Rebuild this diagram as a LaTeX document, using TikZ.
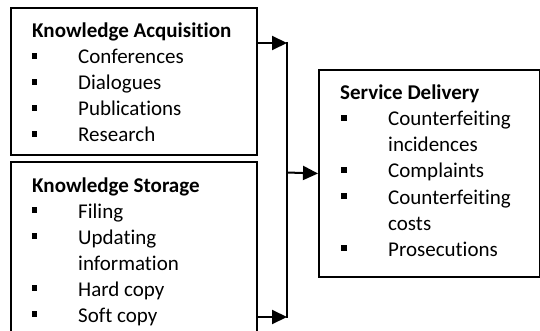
\documentclass[tikz,border=0pt]{standalone}
\usepackage{fontspec}
\setmainfont[Ligatures=NoCommon]{Carlito}
\usetikzlibrary{arrows.meta}
\begin{document}
\begin{tikzpicture}[x=1pt,y=-1pt,
  box/.style={draw=black,line width=2pt,anchor=north west,inner sep=0pt},
  ttl/.style={anchor=base west,inner sep=0pt,font=\fontsize{21}{26}\selectfont\bfseries},
  itm/.style={anchor=base west,inner sep=0pt,font=\fontsize{21}{26}\selectfont},
  bul/.style={fill=black,inner sep=0pt,minimum size=5.5pt},
  arr/.style={line width=2pt,-{Triangle[length=15pt,width=14pt]}},
  con/.style={line width=2pt}]
\useasboundingbox (0,0) rectangle (540,331);
\clip (0,0) rectangle (540,331);
% boxes
\node[box,minimum width=246pt,minimum height=147pt] (ka) at (10,7) {};
\node[box,minimum width=246pt,minimum height=190pt] (ks) at (10,161) {};
\node[box,minimum width=221pt,minimum height=207pt] (sd) at (318,69) {};
% Knowledge Acquisition
\node[ttl] (t1) at (32,38) {Knowledge Acquisition};
\node[bul] (b11) at (34.5,56) {};
\node[itm] (i11) at (78,64) {Conferences};
\node[bul] (b12) at (34.5,82) {};
\node[itm] (i12) at (78,90) {Dialogues};
\node[bul] (b13) at (34.5,108) {};
\node[itm] (i13) at (78,116) {Publications};
\node[bul] (b14) at (34.5,134) {};
\node[itm] (i14) at (78,142) {Research};
% Knowledge Storage
\node[ttl] (t2) at (32,192) {Knowledge Storage};
\node[bul] (b21) at (34.5,210) {};
\node[itm] (i21) at (78,218) {Filing};
\node[bul] (b22) at (34.5,236) {};
\node[itm] (i22) at (78,244) {Updating};
\node[itm] (i23) at (78,270) {information};
\node[bul] (b24) at (34.5,288) {};
\node[itm] (i24) at (78,296) {Hard copy};
\node[bul] (b25) at (34.5,314) {};
\node[itm] (i25) at (78,322) {Soft copy};
% Service Delivery
\node[ttl] (t3) at (340,100) {Service Delivery};
\node[bul] (b31) at (344,118) {};
\node[itm] (i31) at (388,126) {Counterfeiting};
\node[itm] (i32) at (388,152) {incidences};
\node[bul] (b33) at (344,170) {};
\node[itm] (i33) at (388,178) {Complaints};
\node[bul] (b34) at (344,196) {};
\node[itm] (i34) at (388,204) {Counterfeiting};
\node[itm] (i35) at (388,230) {costs};
\node[bul] (b36) at (344,248) {};
\node[itm] (i36) at (388,256) {Prosecutions};
% connectors
\coordinate (j1) at (287,43);
\coordinate (j2) at (287,317);
\coordinate (jm) at (287,172.5);
\draw[arr] (j1 -| ka.east) -- (j1);
\draw[arr] (j2 -| ks.east) -- (j2);
\draw[con] ([yshift=1pt]j1) -- ([yshift=-1pt]j2);
\draw[arr] (jm) -- (sd.west);
\end{tikzpicture}
\end{document}
